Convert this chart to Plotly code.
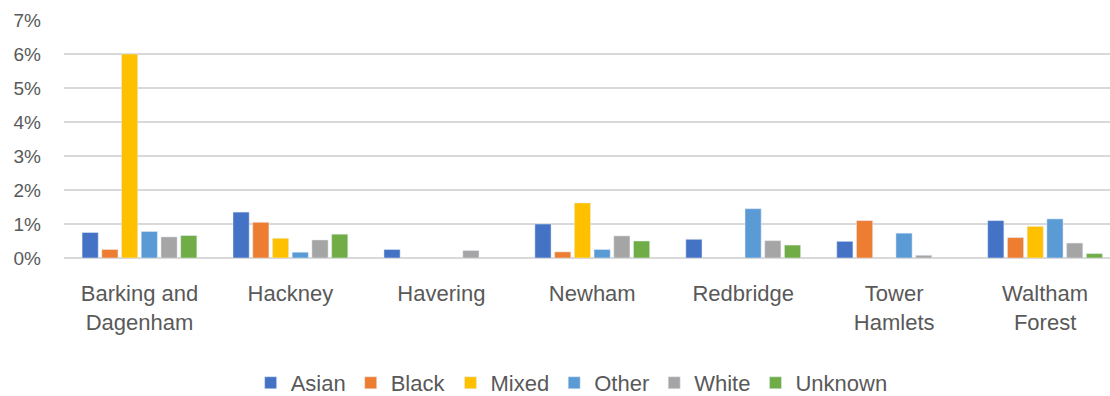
import plotly.graph_objects as go

boroughs = ["Barking and<br>Dagenham", "Hackney", "Havering", "Newham", "Redbridge", "Tower<br>Hamlets", "Waltham<br>Forest"]
asian   = [0.75, 1.35, 0.25, 1.00, 0.55, 0.49, 1.10]
black   = [0.25, 1.05, None, 0.18, None, 1.10, 0.60]
mixed   = [6.00, 0.58, None, 1.62, None, None, 0.93]
other   = [0.78, 0.17, None, 0.25, 1.45, 0.73, 1.15]
white   = [0.62, 0.53, 0.22, 0.65, 0.51, 0.08, 0.44]
unknown = [0.66, 0.70, None, 0.50, 0.38, None, 0.13]

series = [
    ("Asian", asian, "#4472C4"),
    ("Black", black, "#ED7D31"),
    ("Mixed", mixed, "#FFC000"),
    ("Other", other, "#5B9BD5"),
    ("White", white, "#A5A5A5"),
    ("Unknown", unknown, "#70AD47"),
]

fig = go.Figure()
for name, vals, col in series:
    fig.add_trace(go.Bar(
        x=boroughs,
        y=[None if v is None else v / 100 for v in vals],
        name=name,
        marker_color=col,
    ))

fam = "Liberation Sans, Arial, sans-serif"
fig.update_layout(
    width=1110, height=396,
    margin=dict(l=64, r=0, t=20, b=138, autoexpand=False),
    paper_bgcolor="white", plot_bgcolor="white",
    barmode="group", bargap=0.216, bargroupgap=0.18,
    font=dict(family=fam, size=20, color="#595959"),
    legend=dict(orientation="h", x=0.515, xanchor="center", xref="container",
                y=-0.525, yanchor="middle",
                font=dict(family=fam, size=22, color="#595959"),
                traceorder="normal", itemwidth=30),
    showlegend=True,
)
fig.update_yaxes(
    range=[0, 0.07], dtick=0.01, tickformat=".0%",
    showgrid=True, gridcolor="#D9D9D9", gridwidth=1.5,
    zeroline=True, zerolinecolor="#D9D9D9", zerolinewidth=1.5,
    showline=False, ticks="", automargin=False, ticklabelstandoff=22,
    tickfont=dict(family=fam, size=19, color="#595959"),
)
fig.update_xaxes(
    range=[-0.5, 6.43], automargin=False,
    showline=False, ticks="", ticklabelstandoff=20,
    tickfont=dict(family=fam, size=22, color="#595959"),
)
fig.write_html("out.html", config={"displayModeBar": False},
               post_script="document.body.style.margin='0px';")
